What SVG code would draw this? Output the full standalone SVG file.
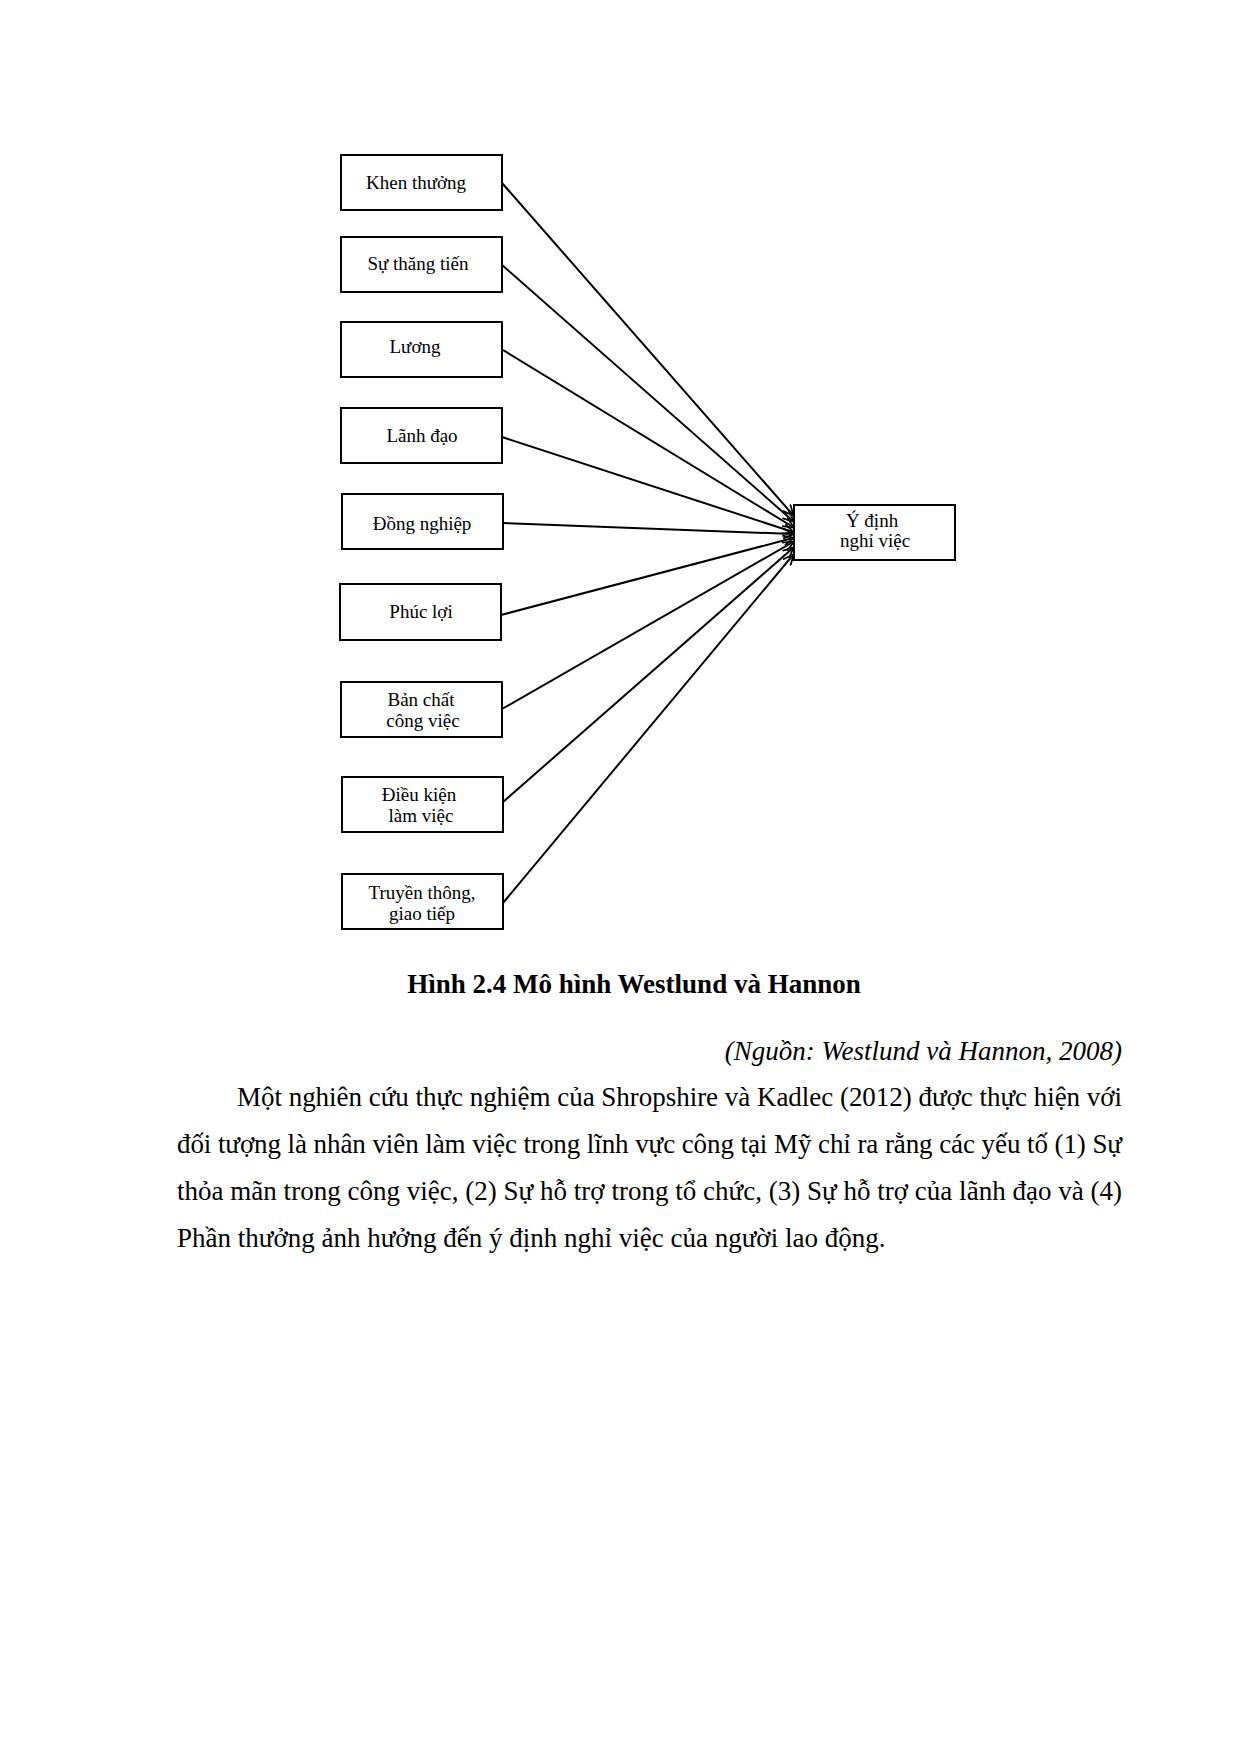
<svg xmlns="http://www.w3.org/2000/svg" width="1240" height="1754" viewBox="0 0 1240 1754">
<style>
.box{fill:#fff;stroke:#000;stroke-width:2}
.lbl{font-family:"Liberation Serif","Times New Roman",serif;font-size:19px;fill:#000;text-anchor:middle}
.edge{stroke:#000;stroke-width:2;fill:none;marker-end:url(#arr)}
.body{font-family:"Liberation Serif","Times New Roman",serif;font-size:27px;fill:#000}
</style>
<defs>
<marker id="arr" viewBox="0 0 10 10" refX="9" refY="5" markerWidth="5.5" markerHeight="5.5" orient="auto" markerUnits="strokeWidth">
<path d="M0,0.5 L10,5 L0,9.5" fill="none" stroke="#000" stroke-width="1.6"/>
</marker>
</defs>
<rect width="1240" height="1754" fill="#fff"/>
<g id="connectors">
<line class="edge" x1="502" y1="183" x2="793" y2="515"/>
<line class="edge" x1="502" y1="265" x2="793" y2="521"/>
<line class="edge" x1="503" y1="350" x2="793" y2="527"/>
<line class="edge" x1="502" y1="437" x2="793" y2="532"/>
<line class="edge" x1="502" y1="523" x2="793" y2="534"/>
<line class="edge" x1="501" y1="615" x2="793" y2="538"/>
<line class="edge" x1="502" y1="709" x2="793" y2="542"/>
<line class="edge" x1="503" y1="802" x2="793" y2="548"/>
<line class="edge" x1="503" y1="903" x2="793" y2="555"/>
</g>
<g id="n1"><rect class="box" x="341" y="155" width="161" height="55"/><text class="lbl" x="416" y="189">Khen thưởng</text></g>
<g id="n2"><rect class="box" x="341" y="237" width="161" height="55"/><text class="lbl" x="418" y="270">Sự thăng tiến</text></g>
<g id="n3"><rect class="box" x="341" y="322" width="161" height="55"/><text class="lbl" x="415" y="353">Lương</text></g>
<g id="n4"><rect class="box" x="341" y="408" width="161" height="55"/><text class="lbl" x="422" y="442">Lãnh đạo</text></g>
<g id="n5"><rect class="box" x="342" y="494" width="161" height="55"/><text class="lbl" x="422" y="530">Đồng nghiệp</text></g>
<g id="n6"><rect class="box" x="340" y="584" width="161" height="56"/><text class="lbl" x="421" y="618">Phúc lợi</text></g>
<g id="n7"><rect class="box" x="341" y="682" width="161" height="55"/><text class="lbl" x="421" y="706">Bản chất</text><text class="lbl" x="423" y="727">công việc</text></g>
<g id="n8"><rect class="box" x="342" y="777" width="161" height="55"/><text class="lbl" x="419" y="801">Điều kiện</text><text class="lbl" x="421" y="822">làm việc</text></g>
<g id="n9"><rect class="box" x="342" y="874" width="161" height="55"/><text class="lbl" x="422" y="899">Truyền thông,</text><text class="lbl" x="422" y="920">giao tiếp</text></g>
<g id="target"><rect class="box" x="794" y="505" width="161" height="55"/><text class="lbl" x="872" y="527">Ý định</text><text class="lbl" x="875" y="547">nghỉ việc</text></g>
<text class="body" x="634" y="993" text-anchor="middle" font-weight="bold">Hình 2.4 Mô hình Westlund và Hannon</text>
<text class="body" x="1122" y="1060" text-anchor="end" font-style="italic">(Nguồn: Westlund và Hannon, 2008)</text>
<text class="body" x="237" y="1106" textLength="885" lengthAdjust="spacing">Một nghiên cứu thực nghiệm của Shropshire và Kadlec (2012) được thực hiện với</text>
<text class="body" x="177" y="1153" textLength="945" lengthAdjust="spacing">đối tượng là nhân viên làm việc trong lĩnh vực công tại Mỹ chỉ ra rằng các yếu tố (1) Sự</text>
<text class="body" x="177" y="1199.5" textLength="945" lengthAdjust="spacing">thỏa mãn trong công việc, (2) Sự hỗ trợ trong tổ chức, (3) Sự hỗ trợ của lãnh đạo và (4)</text>
<text class="body" x="177" y="1246.5">Phần thưởng ảnh hưởng  đến ý định nghỉ việc của người lao động.</text>
</svg>
